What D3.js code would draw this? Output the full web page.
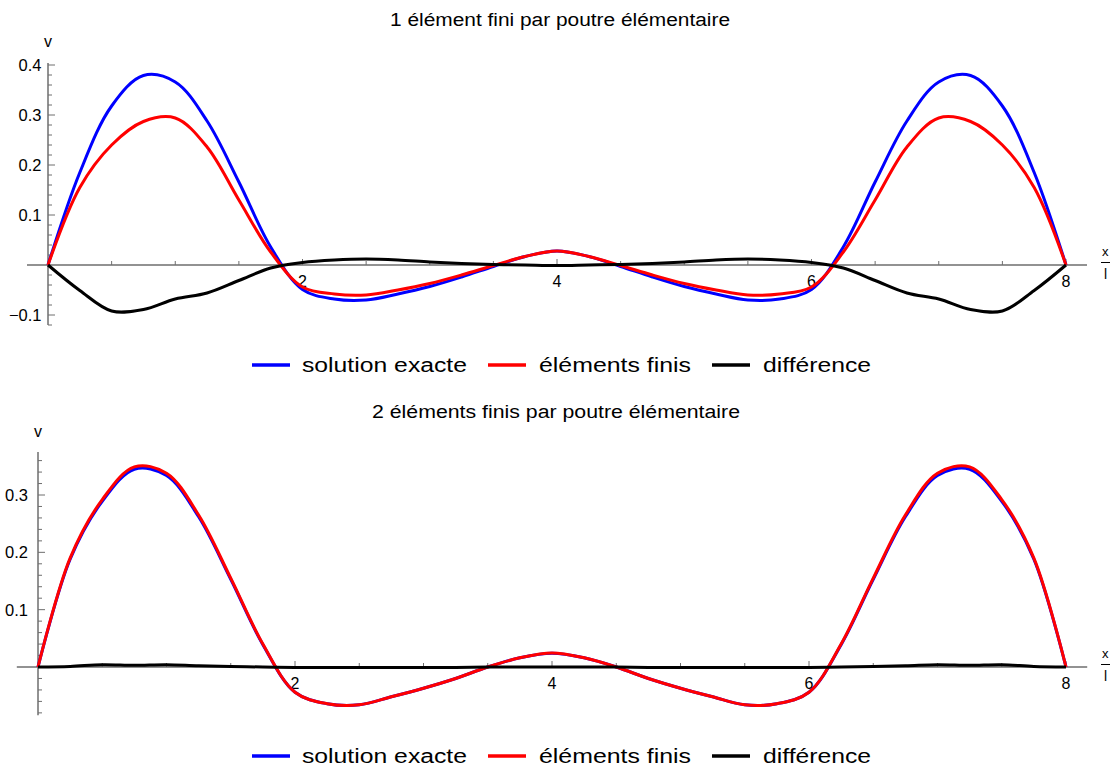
<!DOCTYPE html>
<html><head><meta charset="utf-8">
<script src="https://cdn.jsdelivr.net/npm/d3@7"></script>
<style>body{margin:0;background:#fff} text{font-family:"Liberation Sans",Arial,sans-serif;fill:#000}</style>
</head><body><svg id="c" width="1110" height="767"></svg>
<script>
// ---- data ----
const xValues = [0,0.25,0.5,0.75,1,1.25,1.5,1.75,2,2.25,2.5,2.75,3,3.25,3.5,3.75,4,
                 4.25,4.5,4.75,5,5.25,5.5,5.75,6,6.25,6.5,6.75,7,7.25,7.5,7.75,8];
// panel 1 : 1 élément fini
const exact1 = [0,0.185,0.318,0.379,0.366,0.288,0.166,0.036,-0.049,-0.068,-0.070,-0.058,-0.043,-0.024,-0.003,0.017,0.028,
                0.017,-0.003,-0.024,-0.043,-0.058,-0.070,-0.068,-0.049,0.036,0.166,0.288,0.366,0.379,0.318,0.185,0];
const fem1   = [0,0.155,0.240,0.287,0.294,0.236,0.130,0.026,-0.044,-0.058,-0.060,-0.050,-0.037,-0.020,-0.001,0.017,0.028,
                0.017,-0.001,-0.020,-0.037,-0.050,-0.060,-0.058,-0.044,0.026,0.130,0.236,0.294,0.287,0.240,0.155,0];
const diff1  = [0,-0.051,-0.092,-0.089,-0.068,-0.056,-0.031,-0.006,0.005,0.010,0.012,0.010,0.006,0.003,0.001,0,-0.001,
                0,0.001,0.003,0.006,0.010,0.012,0.010,0.005,-0.006,-0.031,-0.056,-0.068,-0.089,-0.092,-0.051,0];
// panel 2 : 2 éléments finis
const exact2 = [0,0.188,0.289,0.345,0.334,0.262,0.153,0.039,-0.044,-0.064,-0.066,-0.052,-0.037,-0.020,0,0.016,0.024,
                0.016,0,-0.020,-0.037,-0.052,-0.066,-0.064,-0.044,0.039,0.153,0.262,0.334,0.345,0.289,0.188,0];
const fem2   = [0,0.190,0.292,0.349,0.338,0.265,0.155,0.040,-0.044,-0.064,-0.066,-0.052,-0.037,-0.020,0,0.016,0.0245,
                0.016,0,-0.020,-0.037,-0.052,-0.066,-0.064,-0.044,0.040,0.155,0.265,0.338,0.349,0.292,0.190,0];
const diff2  = [0,0.001,0.004,0.003,0.004,0.002,0.001,0,-0.001,-0.001,-0.001,-0.001,-0.001,-0.001,0,0,0,
                0,0,-0.001,-0.001,-0.001,-0.001,-0.001,-0.001,0,0.001,0.002,0.004,0.003,0.004,0.001,0];

const titles = ["1 élément fini par poutre élémentaire", "2 éléments finis par poutre élémentaire"];
const seriesNames = ["solution exacte", "éléments finis", "différence"];
const seriesColors = ["#0000ff", "#ff0000", "#000000"];
const xTickLabels = [2, 4, 6, 8];
const xMinorTicks = [0.5,1,1.5,2.5,3,3.5,4.5,5,5.5,6.5,7,7.5];
const yTicks1 = [-0.1, 0.1, 0.2, 0.3, 0.4];
const yTicks2 = [0.1, 0.2, 0.3];
const yAxisLabel = "v";

// ---- drawing ----
const svg = d3.select("#c");
svg.append("rect").attr("width",1110).attr("height",767).attr("fill","#fff");

const panels = [
  {series:[exact1,fem1,diff1], title:titles[0], yTicks:yTicks1,
   xRange:[48,1066], yDom:[0,0.4], yRange:[265,65], yExt:[-0.12,0.404], labelGap:6.5,
   titleX:560, titleW:340, titleY:25.7, legendY:365, vY:47},
  {series:[exact2,fem2,diff2], title:titles[1], yTicks:yTicks2,
   xRange:[38,1066], yDom:[0,0.3], yRange:[667,495], yExt:[-0.084,0.375], labelGap:10,
   titleX:556, titleW:368, titleY:418, legendY:756, vY:437}
];

const axisCol = "#6e6e6e";

panels.forEach(p => {
  const g = svg.append("g");
  const x = d3.scaleLinear().domain([0,8]).range(p.xRange);
  const y = d3.scaleLinear().domain(p.yDom).range(p.yRange);
  const y0 = y(0), x0 = x(0);

  // title
  g.append("text").attr("x",p.titleX).attr("y",p.titleY).attr("text-anchor","middle")
    .attr("font-size",18).attr("textLength",p.titleW).attr("lengthAdjust","spacingAndGlyphs")
    .text(p.title);

  // x axis
  g.append("line").attr("x1",x(-0.165)).attr("x2",x(8.165)).attr("y1",y0).attr("y2",y0)
    .attr("stroke",axisCol).attr("stroke-width",1.5);
  g.selectAll(".xmin").data(xMinorTicks).enter().append("line")
    .attr("x1",d=>x(d)).attr("x2",d=>x(d)).attr("y1",y0).attr("y2",y0-4)
    .attr("stroke",axisCol).attr("stroke-width",1);
  g.selectAll(".xmaj").data(xTickLabels).enter().append("line")
    .attr("x1",d=>x(d)).attr("x2",d=>x(d)).attr("y1",y0).attr("y2",y0-6)
    .attr("stroke",axisCol).attr("stroke-width",1);
  g.selectAll(".xlab").data(xTickLabels).enter().append("text")
    .attr("x",d=>x(d)).attr("y",y0+22).attr("text-anchor","middle").attr("font-size",16)
    .text(d=>d);

  // x/l label (fraction), kept inside the frame
  g.append("text").attr("x",1102).attr("y",y0-9).attr("font-size",13).text("x");
  g.append("line").attr("x1",1101).attr("x2",1110).attr("y1",y0-2.5).attr("y2",y0-2.5)
    .attr("stroke","#000").attr("stroke-width",1);
  g.append("text").attr("x",1104).attr("y",y0+14).attr("font-size",14).text("l");

  // y axis
  g.append("line").attr("x1",x0).attr("x2",x0).attr("y1",y(p.yExt[0])).attr("y2",y(p.yExt[1]))
    .attr("stroke",axisCol).attr("stroke-width",1.5);
  const nMin = Math.ceil(p.yExt[0]/0.02-1e-6), nMax = Math.floor(p.yExt[1]/0.02+1e-6);
  const minor = d3.range(nMin, nMax+1).map(k => k*0.02)
    .filter(v => Math.abs(v) > 1e-9 && !p.yTicks.some(t => Math.abs(t-v) < 1e-9));
  g.selectAll(".ymin").data(minor).enter().append("line")
    .attr("x1",x0).attr("x2",x0+4).attr("y1",d=>y(d)).attr("y2",d=>y(d))
    .attr("stroke",axisCol).attr("stroke-width",1);
  g.selectAll(".ymaj").data(p.yTicks).enter().append("line")
    .attr("x1",x0).attr("x2",x0+7).attr("y1",d=>y(d)).attr("y2",d=>y(d))
    .attr("stroke",axisCol).attr("stroke-width",1);
  g.selectAll(".ylab").data(p.yTicks).enter().append("text")
    .attr("x",x0-p.labelGap).attr("y",d=>y(d)+6).attr("text-anchor","end").attr("font-size",16.5)
    .text(d => d < 0 ? "\u2212" + Math.abs(d) : String(d));
  g.append("text").attr("x",x0).attr("y",p.vY).attr("text-anchor","middle").attr("font-size",16).text(yAxisLabel);

  // curves
  const line = d3.line().x((d,i)=>x(xValues[i])).y(d=>y(d)).curve(d3.curveCatmullRom.alpha(0.5));
  p.series.forEach((s,k) => {
    g.append("path").attr("d",line(s)).attr("fill","none")
      .attr("stroke",seriesColors[k]).attr("stroke-width",3).attr("stroke-linejoin","round");
  });

  // legend
  const lx = [252,488,712], tx = [302,539,763], tw = [165,152,108];
  seriesNames.forEach((n,k) => {
    g.append("line").attr("x1",lx[k]).attr("x2",lx[k]+38).attr("y1",p.legendY).attr("y2",p.legendY)
      .attr("stroke",seriesColors[k]).attr("stroke-width",3.3);
    g.append("text").attr("x",tx[k]).attr("y",p.legendY+7).attr("font-size",20)
      .attr("textLength",tw[k]).attr("lengthAdjust","spacingAndGlyphs").text(n);
  });
});
</script></body></html>
